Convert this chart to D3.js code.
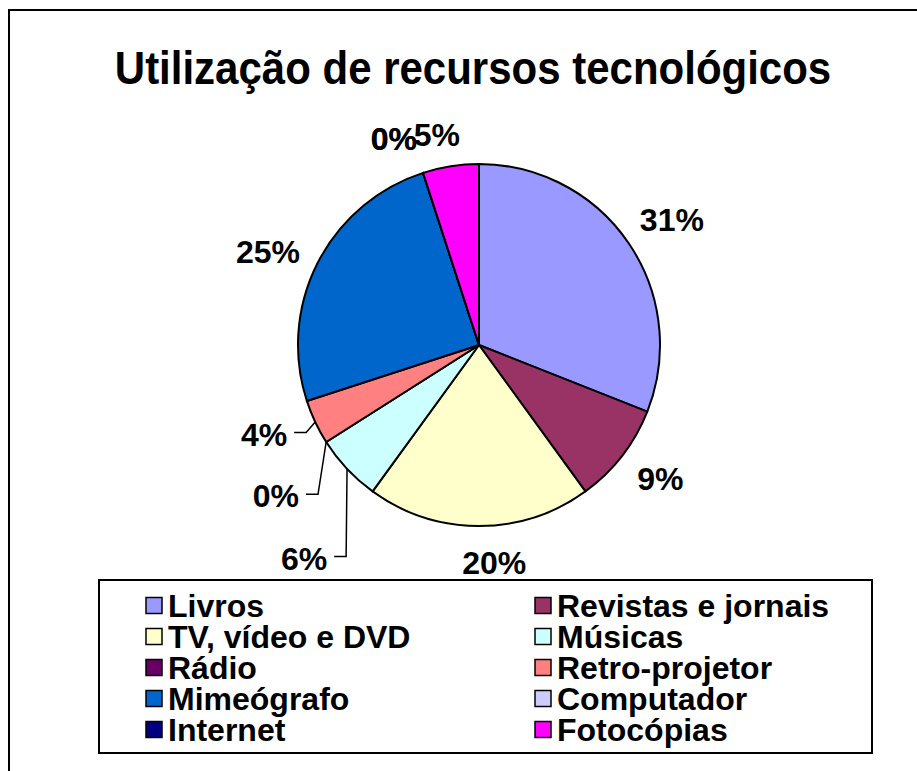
<!DOCTYPE html>
<html>
<head>
<meta charset="utf-8">
<script src="https://cdn.jsdelivr.net/npm/d3@7"></script>
<style>
  html, body { margin: 0; padding: 0; background: #fff; }
  svg { display: block; }
  text { font-family: "Liberation Sans", Arial, sans-serif; font-weight: bold; fill: #000; }
</style>
</head>
<body>
<svg id="chart" width="917" height="771"></svg>
<script>
// ---- data ----
const title = "Utilização de recursos tecnológicos";
const categories = ["Livros", "Revistas e jornais", "TV, vídeo e DVD", "Músicas", "Rádio",
                    "Retro-projetor", "Mimeógrafo", "Computador", "Internet", "Fotocópias"];
const values = [31, 9, 20, 6, 0, 4, 25, 0, 0, 5];
const colors = ["#9999FF", "#993366", "#FFFFCC", "#CCFFFF", "#660066",
                "#FF8080", "#0066CC", "#CCCCFF", "#000080", "#FF00FF"];

// ---- layout (label placement, polar around the pie centre) ----
const labelAngle  = [57, 126.3, 176, 219.4, 233.4, 247.5, 294, 337.6, 337.6, 348.7];
const labelRadius = [230, 225, 218.5, 275.7, 253, 232.7, 231, 223.3, 223.3, 215.1];
const withLeader  = [false, false, false, true, true, true, false, false, false, false];

const W = 917, H = 771;
const svg = d3.select("#chart");
const cx = 479, cy = 345, R = 181;

// outer chart-area border (extends beyond right/bottom edge)
svg.append("rect").attr("x", 9).attr("y", 10).attr("width", W + 20).attr("height", H + 20)
  .attr("fill", "#fff").attr("stroke", "#000").attr("stroke-width", 2);

// title
svg.append("text").attr("transform", "translate(473,84) scale(1,1.08)")
  .attr("text-anchor", "middle").attr("font-size", 42).text(title);

// pie
const total = d3.sum(values);
const pie = d3.pie().sort(null).value(d => d).startAngle(0).endAngle(2 * Math.PI);
const arcs = pie(values);
const arc = d3.arc().innerRadius(0).outerRadius(R);
const g = svg.append("g").attr("transform", `translate(${cx},${cy})`);
g.selectAll("path.slice").data(arcs).join("path")
  .attr("class", "slice")
  .attr("d", arc)
  .attr("fill", (d, i) => colors[i])
  .attr("stroke", "#000").attr("stroke-width", 2).attr("stroke-linejoin", "round");

// labels
const fmt = v => Math.round(v / total * 100) + "%";
const polar = (deg, r) => {
  const a = deg * Math.PI / 180;
  return [r * Math.sin(a), -r * Math.cos(a)];
};
const labelG = g.append("g");
arcs.forEach((d, i) => {
  const [lx, ly] = polar(labelAngle[i], labelRadius[i]);
  const t = labelG.append("text").attr("x", lx).attr("y", ly)
    .attr("text-anchor", "middle").attr("dy", "0.36em")
    .attr("font-size", 32).text(fmt(d.value));
  if (withLeader[i]) {
    const bb = t.node().getBBox();
    const mid = (d.startAngle + d.endAngle) / 2;
    const ex = R * Math.sin(mid), ey = -R * Math.cos(mid);
    const sx = bb.x + bb.width + 7, sy = ly - 1.5;
    const path = d3.path();
    path.moveTo(sx, sy);
    path.lineTo(sx + 12, sy);
    path.lineTo(ex, ey);
    labelG.append("path").attr("d", path.toString())
      .attr("fill", "none").attr("stroke", "#000").attr("stroke-width", 1.5);
  }
});

// legend
const legend = svg.append("g");
legend.append("rect").attr("x", 99).attr("y", 580).attr("width", 773).attr("height", 173)
  .attr("fill", "#fff").attr("stroke", "#000").attr("stroke-width", 2);
const colX = [146, 535];
const rowY = d3.range(5).map(r => 605.5 + r * 31);
categories.forEach((c, i) => {
  const col = i % 2, row = Math.floor(i / 2);
  const x = colX[col], y = rowY[row];
  legend.append("rect").attr("x", x).attr("y", y - 8).attr("width", 16).attr("height", 16)
    .attr("fill", colors[i]).attr("stroke", "#000").attr("stroke-width", 1.5);
  legend.append("text").attr("x", x + 22).attr("y", y).attr("dy", "0.36em")
    .attr("font-size", 32).text(c);
});
</script>
</body>
</html>
